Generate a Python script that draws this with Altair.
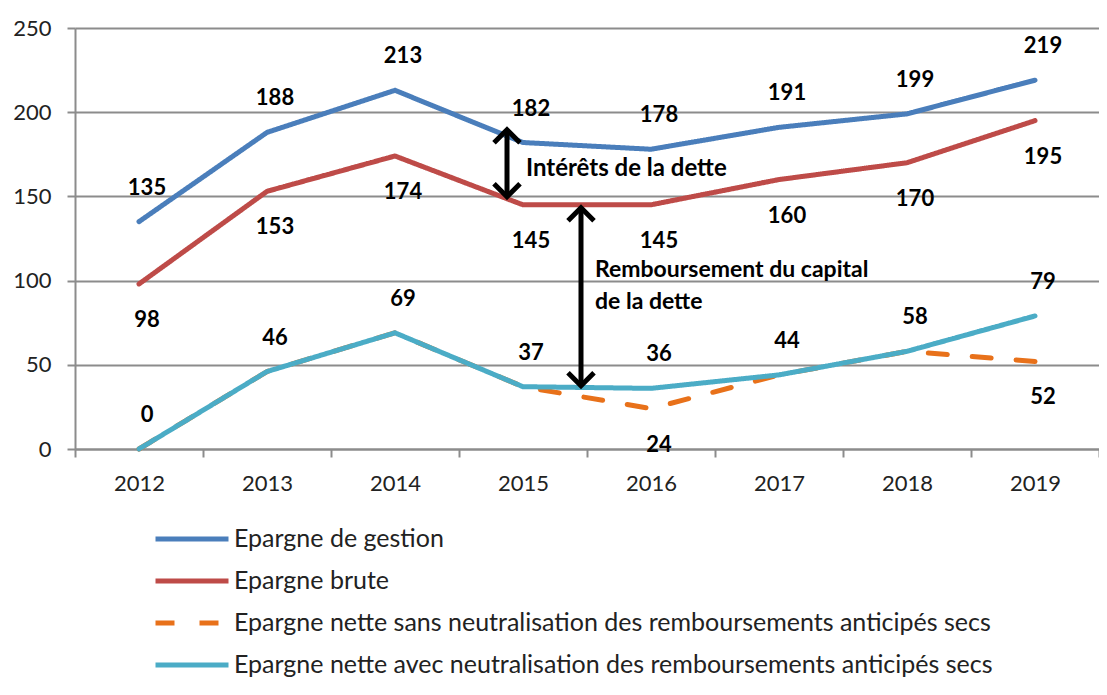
import altair as alt
import pandas as pd

YEARS = ["2012", "2013", "2014", "2015", "2016", "2017", "2018", "2019"]
GESTION = [135, 188, 213, 182, 178, 191, 199, 219]
BRUTE = [98, 153, 174, 145, 145, 160, 170, 195]
NETTE_SANS = [0, 46, 69, 37, 24, 44, 58, 52]
NETTE_AVEC = [0, 46, 69, 37, 36, 44, 58, 79]
SERIES = [
    "Epargne de gestion",
    "Epargne brute",
    "Epargne nette sans neutralisation des remboursements anticipés secs",
    "Epargne nette avec neutralisation des remboursements anticipés secs",
]
COLORS = ["#4a7ebb", "#be4b48", "#e8711a", "#4bacc6"]
DASHES = [[1, 0], [1, 0], [19, 25], [1, 0]]
Y_TICKS = [0, 50, 100, 150, 200, 250]

# annotation arrows (year, top value, bottom value)
ARROW_INTERETS = ["2015", 189.6, 149.8]
ARROW_CAPITAL = ["2015", 143.3, 37.6]
NOTE_INTERETS = ["Intérêts de la dette"]
NOTE_INTERETS_Y = [166.4]
NOTE_CAPITAL = ["Remboursement du capital", "de la dette"]
NOTE_CAPITAL_Y = [106.0, 87.5]

FONT = "Lato"
GRID = "#8c8c8c"

all_values = [GESTION, BRUTE, NETTE_SANS, NETTE_AVEC]
rows = []
for s, vals in zip(SERIES, all_values):
    for y, v in zip(YEARS, vals):
        rows.append({"year": y, "series": s, "value": v})
df = pd.DataFrame(rows)

lab = []
for y, v in zip(YEARS, GESTION):
    lab.append({"year": y, "value": v, "pos": "above"})
for y, v in zip(YEARS, BRUTE):
    lab.append({"year": y, "value": v, "pos": "below"})
for y, v, w in zip(YEARS, NETTE_SANS, NETTE_AVEC):
    if v != w:
        lab.append({"year": y, "value": v, "pos": "below"})
for y, v in zip(YEARS, NETTE_AVEC):
    lab.append({"year": y, "value": v, "pos": "above"})
labdf = pd.DataFrame(lab)

xscale = alt.Scale(type="band", domain=YEARS, paddingInner=0, paddingOuter=0)
yscale = alt.Scale(domain=[0, 250], nice=False)

leg = alt.Legend(
    title=None, orient="none", legendX=78, legendY=498, direction="vertical",
    labelFont=FONT, labelFontSize=25, labelColor="#222", labelLimit=0,
    symbolType="stroke", symbolSize=5329, symbolStrokeWidth=5,
    clipHeight=26, rowPadding=16, padding=0, labelOffset=3,
)

lines = alt.Chart(df).mark_line(strokeWidth=5, strokeJoin="round", strokeCap="round").encode(
    x=alt.X("year:O", scale=xscale, axis=alt.Axis(
        title=None, tickBand="extent", labelAngle=0, labelFont=FONT, labelFontSize=22,
        labelColor="#222", labelPadding=16, tickSize=8, tickColor=GRID, tickWidth=2,
        domainColor=GRID, domainWidth=2, grid=False)),
    y=alt.Y("value:Q", scale=yscale, axis=alt.Axis(
        title=None, values=Y_TICKS, labelFont=FONT, labelFontSize=22, labelColor="#222",
        labelPadding=16, tickSize=8, tickColor=GRID, tickWidth=2, domainColor=GRID,
        domainWidth=2, grid=True, gridColor=GRID, gridWidth=2)),
    color=alt.Color("series:N", scale=alt.Scale(domain=SERIES, range=COLORS), legend=leg),
    strokeDash=alt.StrokeDash("series:N", scale=alt.Scale(domain=SERIES, range=DASHES), legend=leg),
)

text_style = dict(font=FONT, fontWeight="bold", fontSize=22, color="black", baseline="middle", align="center", dx=8)
above = alt.Chart(labdf).transform_filter("datum.pos == 'above'").mark_text(dy=-34, **text_style).encode(
    x=alt.X("year:O", scale=xscale), y=alt.Y("value:Q", scale=yscale), text="value:Q")
below = alt.Chart(labdf).transform_filter("datum.pos == 'below'").mark_text(dy=36, **text_style).encode(
    x=alt.X("year:O", scale=xscale), y=alt.Y("value:Q", scale=yscale), text="value:Q")


def arrow(spec, xoff):
    d = pd.DataFrame({"year": [spec[0]], "top": [spec[1]], "bottom": [spec[2]]})
    base = alt.Chart(d)
    shaft = base.mark_rule(strokeWidth=5, color="black", xOffset=xoff).encode(
        x=alt.X("year:O", scale=xscale), y="top:Q", y2="bottom:Q")
    up = base.mark_point(shape="M-1,1L0,0L1,1", filled=False, size=676, strokeWidth=5,
                         color="black", opacity=1, xOffset=xoff).encode(
        x=alt.X("year:O", scale=xscale), y="top:Q")
    down = base.mark_point(shape="M-1,-1L0,0L1,-1", filled=False, size=676, strokeWidth=5,
                           color="black", opacity=1, xOffset=xoff).encode(
        x=alt.X("year:O", scale=xscale), y="bottom:Q")
    return [shaft, up, down]


note_style = dict(font=FONT, fontWeight="bold", color="black", baseline="middle", align="left")
n1 = alt.Chart(pd.DataFrame({"year": ["2015"], "v": NOTE_INTERETS_Y, "t": NOTE_INTERETS})).mark_text(
    xOffset=3, fontSize=24, **note_style).encode(
    x=alt.X("year:O", scale=xscale), y="v:Q", text="t:N")
n2 = alt.Chart(pd.DataFrame({"year": ["2015", "2015"], "v": NOTE_CAPITAL_Y, "t": NOTE_CAPITAL})).mark_text(
    xOffset=72, fontSize=23, **note_style).encode(x=alt.X("year:O", scale=xscale), y="v:Q", text="t:N")

chart = alt.layer(
    lines, above, below, *arrow(ARROW_INTERETS, -16), *arrow(ARROW_CAPITAL, 58), n1, n2
).properties(
    width=1024, height=421,
    autosize=alt.AutoSizeParams(type="none"),
    padding={"left": 67, "top": 20, "right": 0, "bottom": 234},
).configure_view(stroke=None)

chart.save("out.html", embed_options={"renderer": "svg", "actions": False})
